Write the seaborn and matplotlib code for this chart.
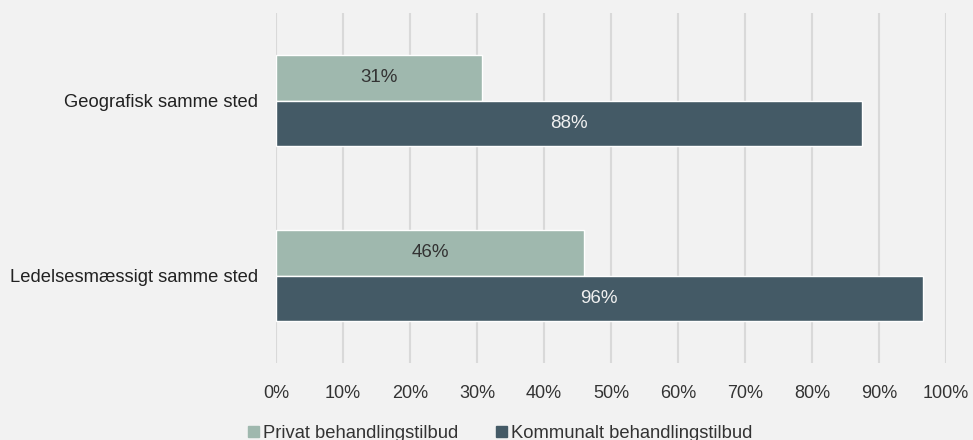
import numpy as np
import pandas as pd
import matplotlib.pyplot as plt
import seaborn as sns

categories = ['Geografisk samme sted', 'Ledelsesmæssigt samme sted']
series = ['Privat behandlingstilbud', 'Kommunalt behandlingstilbud']
privat = [0.307, 0.46]
kommunalt = [0.875, 0.965]
privat_labels = ['31%', '46%']
kommunalt_labels = ['88%', '96%']
x_ticks = [0, 0.1, 0.2, 0.3, 0.4, 0.5, 0.6, 0.7, 0.8, 0.9, 1.0]
x_tick_labels = ['0%', '10%', '20%', '30%', '40%', '50%', '60%', '70%', '80%', '90%', '100%']

colors = ['#9fb8ae', '#445a66']
bg = '#f2f2f2'

df = pd.DataFrame({
    'kategori': categories * 2,
    'serie': [series[0]] * 2 + [series[1]] * 2,
    'andel': privat + kommunalt,
})

sns.set_theme(style='white')
plt.rcParams['font.family'] = ['Liberation Sans', 'DejaVu Sans']

fig = plt.figure(figsize=(9.73, 4.4), dpi=100, facecolor=bg)
ax = fig.add_axes([0.2837, 0.175, 0.6886, 0.795])
ax.set_facecolor(bg)

sns.barplot(data=df, x='andel', y='kategori', hue='serie', order=categories,
            hue_order=series, palette=colors, orient='h', width=0.52,
            saturation=1, legend=False, ax=ax)

# value labels in the middle of each bar
for container, labels, tcol in zip(ax.containers, [privat_labels, kommunalt_labels],
                                   ['#333333', '#f0f0f0']):
    ax.bar_label(container, labels=labels, label_type='center', color=tcol, fontsize=13.5)

ax.set_xlim(0, 1.0)
ax.set_xticks(x_ticks)
ax.set_xticklabels(x_tick_labels)
ax.grid(axis='x', color='#d9d9d9', linewidth=1.5)
ax.set_axisbelow(True)
for s in ax.spines.values():
    s.set_visible(False)
ax.tick_params(axis='x', length=0, pad=16, labelsize=13, colors='#333333')
ax.tick_params(axis='y', length=0, pad=13, labelsize=13.2, colors='#222222')
ax.set_xlabel('')
ax.set_ylabel('')

handles = [plt.Rectangle((0, 0), 1, 1, color=c) for c in colors]
fig.legend(handles, series, loc='center', bbox_to_anchor=(0.514, 0.015), ncol=2,
           frameon=False, fontsize=13.2, handlelength=0.6, handleheight=0.6,
           handletextpad=0.2, columnspacing=2.1, labelcolor='#333333')

fig.savefig('out.png', dpi=100, facecolor=bg)
